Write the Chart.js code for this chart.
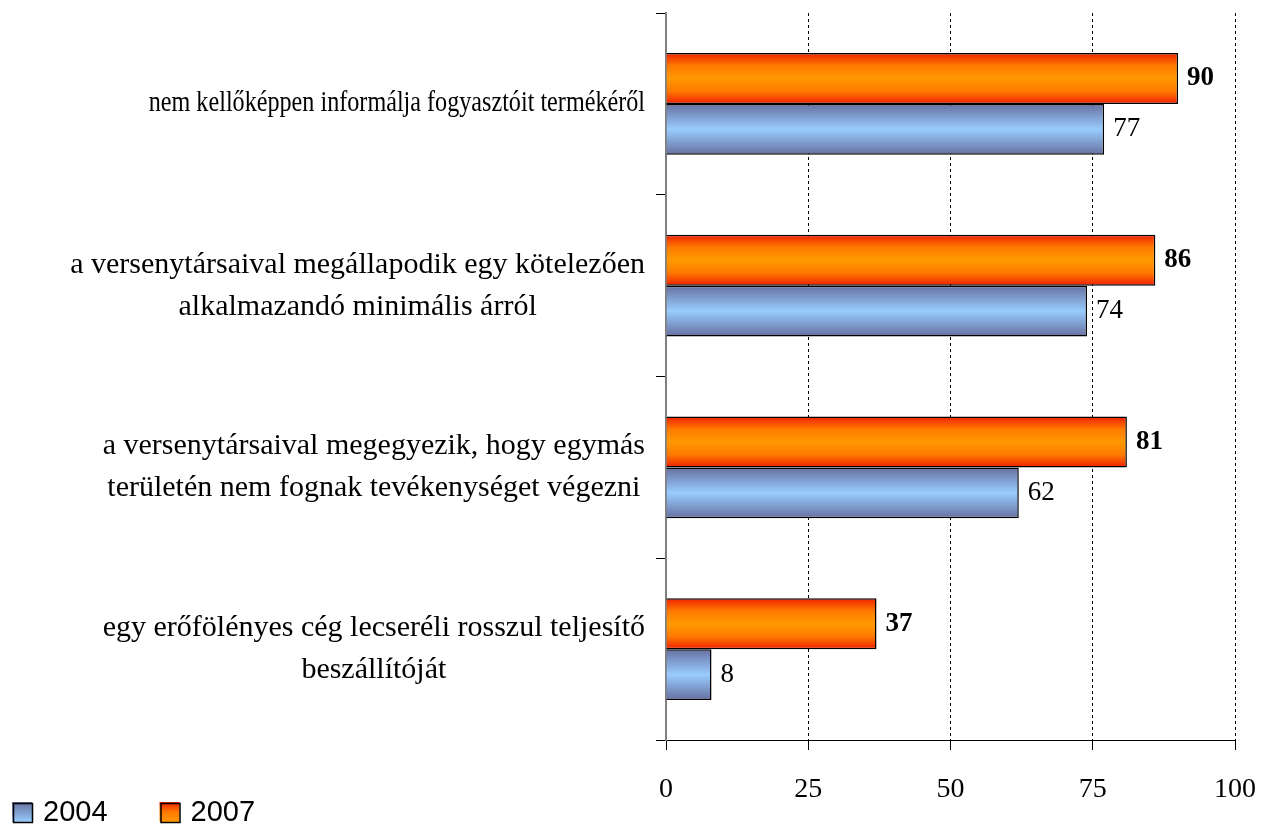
<!DOCTYPE html>
<html>
<head>
<meta charset="utf-8">
<script src="https://cdn.jsdelivr.net/npm/chart.js@4.4.0/dist/chart.umd.min.js"></script>
<style>
  html, body { margin: 0; padding: 0; background: #fff; }
  #wrap { width: 1262px; height: 827px; }
</style>
</head>
<body>
<div id="wrap"><canvas id="chart"></canvas></div>
<script>
const categories = [
  ['nem kellőképpen informálja fogyasztóit termékéről'],
  ['a versenytársaival megállapodik egy kötelezően', 'alkalmazandó minimális árról'],
  ['a versenytársaival megegyezik, hogy egymás', 'területén nem fognak tevékenységet végezni'],
  ['egy erőfölényes cég lecseréli rosszul teljesítő', 'beszállítóját']
];
const values2007 = [90, 86, 81, 37];
const values2004 = [77, 74, 62, 8];
const xTicks = [0, 25, 50, 75, 100];
const legendOrder = ['2004', '2007'];

const orangeStops = [[0, '#F02000'], [0.25, '#FF7A00'], [0.5, '#FF9900'], [0.75, '#FF7A00'], [1, '#F02000']];
const blueStops = [[0, '#66709F'], [0.5, '#99CCFF'], [1, '#66709F']];
const catPct = 0.56;

const catFont = '30px "Liberation Serif"';
// the first label is drawn narrower in the original: [x scale, y scale]
const labelScale = [[0.805, 0.95], [1, 1], [1, 1], [1, 1]];
const lineGap = 42;

function barFill(c, stops) {
  const chart = c.chart;
  const y = chart.scales.y;
  const mid = stops[Math.floor(stops.length / 2)][1];
  if (!y || c.dataIndex === undefined || !(y.height > 0)) return mid;
  const band = y.height / categories.length;
  const catSize = band * catPct;
  const h = catSize / 2;
  const top = y.getPixelForValue(c.dataIndex) - catSize / 2 + c.datasetIndex * h;
  if (!isFinite(top) || !isFinite(h) || h <= 0) return mid;
  const g = chart.ctx.createLinearGradient(0, top, 0, top + h);
  stops.forEach(([o, col]) => g.addColorStop(o, col));
  return g;
}

// category labels: lines centred on each other, block right-aligned to the axis
const catLabels = {
  id: 'catLabels',
  afterDraw(chart) {
    const ctx = chart.ctx;
    const y = chart.scales.y;
    ctx.save();
    ctx.font = catFont;
    ctx.fillStyle = '#000';
    ctx.textAlign = 'center';
    ctx.textBaseline = 'middle';
    categories.forEach((lines, i) => {
      const [sx, sy] = labelScale[i];
      const cy = y.getPixelForValue(i);
      const widest = Math.max(...lines.map(l => ctx.measureText(l).width)) * sx;
      const cx = y.right - 21 - widest / 2;
      const top = cy - (lines.length - 1) * lineGap / 2;
      lines.forEach((l, k) => {
        ctx.save();
        ctx.translate(cx, top + k * lineGap);
        ctx.scale(sx, sy);
        ctx.fillText(l, 0, 0);
        ctx.restore();
      });
    });
    ctx.restore();
  }
};

const valueLabels = {
  id: 'valueLabels',
  afterDatasetsDraw(chart) {
    const ctx = chart.ctx;
    ctx.save();
    ctx.textBaseline = 'middle';
    ctx.fillStyle = '#000';
    chart.data.datasets.forEach((ds, d) => {
      ctx.font = (d === 0 ? 'bold ' : '') + '27px "Liberation Serif"';
      chart.getDatasetMeta(d).data.forEach((bar, i) => {
        ctx.fillText(ds.data[i], bar.x + 9, bar.y);
      });
    });
    ctx.restore();
  }
};

const legendBox = {
  id: 'legendBox',
  afterDraw(chart) {
    const ctx = chart.ctx;
    const cy = chart.height - 15;
    let x = 12;
    ctx.save();
    ctx.font = '29px "Liberation Sans"';
    ctx.textBaseline = 'middle';
    legendOrder.forEach(name => {
      const stops = name === '2007' ? orangeStops : blueStops;
      const g = ctx.createLinearGradient(0, cy - 10, 0, cy + 10);
      stops.slice(0, Math.ceil(stops.length / 2)).forEach(([o, col]) => g.addColorStop(o * 2, col));
      ctx.fillStyle = g;
      ctx.fillRect(x, cy - 10, 20, 20);
      ctx.strokeStyle = '#000';
      ctx.lineWidth = 1.5;
      ctx.strokeRect(x + 1.5, cy - 8.5, 19, 19);
      ctx.fillStyle = '#000';
      ctx.fillText(name, x + 31, cy + 1);
      x += 31 + ctx.measureText(name).width + 52;
    });
    ctx.restore();
  }
};

new Chart(document.getElementById('chart'), {
  type: 'bar',
  data: {
    labels: categories,
    datasets: [
      {
        label: '2007',
        data: values2007,
        backgroundColor: c => barFill(c, orangeStops),
        borderColor: '#000',
        borderWidth: 1.5
      },
      {
        label: '2004',
        data: values2004,
        backgroundColor: c => barFill(c, blueStops),
        borderColor: '#000',
        borderWidth: 1.5
      }
    ]
  },
  options: {
    indexAxis: 'y',
    responsive: true,
    maintainAspectRatio: false,
    animation: false,
    categoryPercentage: catPct,
    barPercentage: 1,
    layout: { padding: { top: 13, right: 27, left: 0, bottom: 0 } },
    plugins: {
      legend: { display: false },
      tooltip: { enabled: false }
    },
    scales: {
      x: {
        min: xTicks[0],
        max: xTicks[xTicks.length - 1],
        ticks: {
          stepSize: 25,
          color: '#000',
          padding: 23,
          font: { family: '"Liberation Serif"', size: 28 }
        },
        grid: {
          color: c => (c.tick && c.tick.value === 0) ? 'rgba(0,0,0,0)' : '#000',
          tickColor: '#000',
          tickLength: 10,
          lineWidth: 1
        },
        border: { color: '#000', width: 1, dash: [3, 3] },
        afterFit(s) {
          s.height = 87;
          s.paddingLeft = 0;
          s.paddingRight = 0;
        }
      },
      y: {
        ticks: { display: false },
        grid: { drawOnChartArea: false, tickColor: '#000', tickLength: 10, offset: true },
        border: { color: '#808080', width: 2 },
        afterFit(s) { s.width = 666; }
      }
    }
  },
  plugins: [catLabels, valueLabels, legendBox]
});
</script>
</body>
</html>
